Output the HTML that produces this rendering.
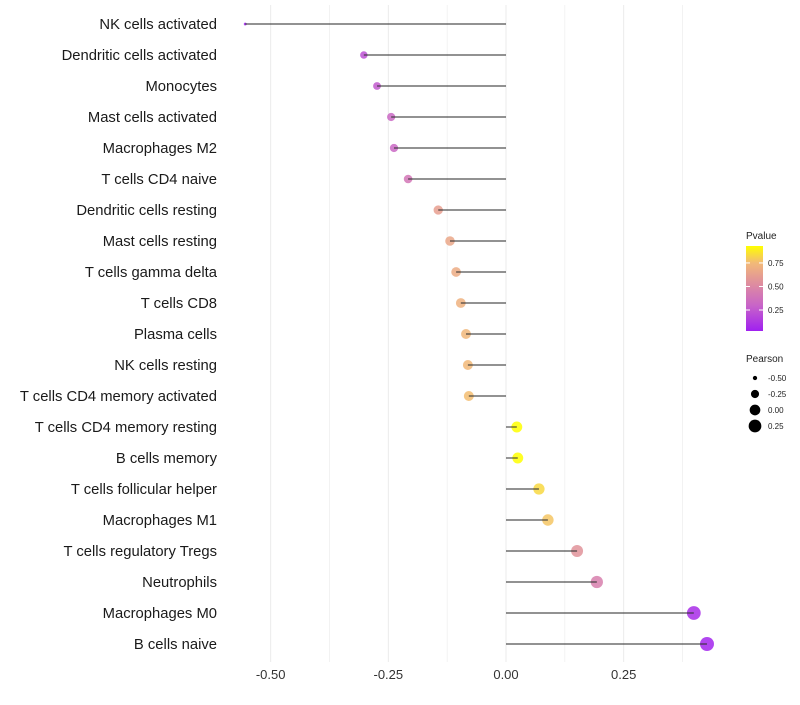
<!DOCTYPE html>
<html><head><meta charset="utf-8"><style>
body{margin:0;background:#fff;font-family:"Liberation Sans",sans-serif}
</style></head><body>
<svg id="chart" width="800" height="700" xmlns="http://www.w3.org/2000/svg"></svg>
<script>
const categories=["NK cells activated","Dendritic cells activated","Monocytes","Mast cells activated","Macrophages M2","T cells CD4 naive","Dendritic cells resting","Mast cells resting","T cells gamma delta","T cells CD8","Plasma cells","NK cells resting","T cells CD4 memory activated","T cells CD4 memory resting","B cells memory","T cells follicular helper","Macrophages M1","T cells regulatory  Tregs ","Neutrophils","Macrophages M0","B cells naive"];
const pearson=[-0.554,-0.302,-0.274,-0.244,-0.238,-0.208,-0.144,-0.119,-0.106,-0.096,-0.085,-0.081,-0.079,0.023,0.025,0.070,0.089,0.151,0.193,0.399,0.427];
const pvalue=[0.03,0.22,0.26,0.32,0.32,0.40,0.62,0.66,0.68,0.71,0.74,0.75,0.76,0.93,0.93,0.83,0.78,0.56,0.45,0.08,0.05];
const xTicks=[-0.5,-0.25,0,0.25];
const xTickLabels=["-0.50","-0.25","0.00","0.25"];
const pTicks=[0.25,0.5,0.75];
const sizeTicks=[-0.5,-0.25,0,0.25];
const NS="http://www.w3.org/2000/svg";
const svg=document.getElementById('chart');
function el(t,a,p){const e=document.createElementNS(NS,t);for(const k in a)e.setAttribute(k,a[k]);(p||svg).appendChild(e);return e;}
const xs=v=>506+v*470.7;
const ys=i=>24+i*31;
const rs=v=>Math.sqrt(Math.max(1.5,2.25+(v+0.55)*47.7));
const pMin=0.027,pMax=0.93;
const stops=[[0,[160,32,240]],[0.3,[200,100,200]],[0.55,[222,140,160]],[0.8,[242,185,120]],[1,[255,255,0]]];
function col(p){let t=(p-pMin)/(pMax-pMin);t=Math.max(0,Math.min(1,t));for(let i=1;i<stops.length;i++){if(t<=stops[i][0]){const a=stops[i-1],b=stops[i];const f=(t-a[0])/(b[0]-a[0]);const c=a[1].map((v,j)=>Math.round(v+(b[1][j]-v)*f));return `rgb(${c})`;}}return 'rgb(255,255,0)';}
for(let v=-0.5;v<=0.38;v+=0.125){const g=el('line',{x1:xs(v),x2:xs(v),y1:5,y2:662,stroke:'#ebebeb','stroke-width':Math.abs((v*4)%1)<1e-6?1:0.6});

}
xTicks.forEach((v,i)=>{const t=el('text',{x:xs(v),y:679,'text-anchor':'middle','font-size':13,fill:'#333'});t.textContent=xTickLabels[i];

});
categories.forEach((c,i)=>{
const y=ys(i);
const t=el('text',{x:217,y:y+5,'text-anchor':'end','font-size':14.8,fill:'#1a1a1a'});t.textContent=c;


const d=el('circle',{cx:xs(pearson[i]),cy:y,r:rs(pearson[i]),fill:col(pvalue[i]),'fill-opacity':0.85});


const l=el('line',{x1:xs(0),x2:xs(pearson[i]),y1:y,y2:y,stroke:'#333','stroke-width':1.2,'stroke-opacity':0.85});


});
const defs=el('defs',{});const lg=el('linearGradient',{id:'pg',x1:0,y1:1,x2:0,y2:0},defs);
stops.forEach(s=>el('stop',{offset:s[0],'stop-color':`rgb(${s[1]})`},lg));
const lt=el('text',{x:746,y:239,'font-size':10,fill:'#222'});lt.textContent='Pvalue';


const bar=el('rect',{x:746,y:246,width:17,height:85,fill:'url(#pg)'});


const py=p=>331-(p-pMin)/(pMax-pMin)*85;
pTicks.forEach(p=>{el('line',{x1:746,x2:750,y1:py(p),y2:py(p),stroke:'#fff'});el('line',{x1:759,x2:763,y1:py(p),y2:py(p),stroke:'#fff'});
const t=el('text',{x:768,y:py(p)+3,'font-size':8,fill:'#222'});t.textContent=p.toFixed(2);

});
const st=el('text',{x:746,y:362,'font-size':10,fill:'#222'});st.textContent='Pearson';


sizeTicks.forEach((v,i)=>{const y=378+i*16;
const c=el('circle',{cx:755,cy:y,r:rs(v),fill:'#000'});


const t=el('text',{x:768,y:y+3,'font-size':8,fill:'#222'});t.textContent=v.toFixed(2);

});
</script>
</body></html>
